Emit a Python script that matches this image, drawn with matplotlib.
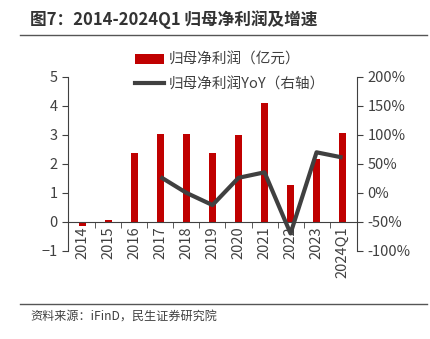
import matplotlib
matplotlib.use("Agg")
import matplotlib.pyplot as plt
from matplotlib.lines import Line2D
from matplotlib.patches import Patch
from matplotlib.ticker import FuncFormatter, FixedLocator

plt.rcParams['font.family'] = ['Noto Sans CJK SC', 'DejaVu Sans']

years = ["2014", "2015", "2016", "2017", "2018", "2019", "2020", "2021", "2022", "2023", "2024Q1"]
profit = [-0.13, 0.08, 2.36, 3.02, 3.04, 2.39, 3.01, 4.10, 1.28, 2.18, 3.07]
yoy_years = ["2017", "2018", "2019", "2020", "2021", "2022", "2023", "2024Q1"]
yoy = [27.5, 0.0, -21.0, 26.0, 35.5, -70.0, 70.0, 61.0]

red = "#C00000"
gray = "#404040"
txt = "#404040"
fs = 10.5

fig = plt.figure(figsize=(4.31, 3.39), dpi=100)
ax = fig.add_axes([0.158, 0.26, 0.67, 0.513])

x = list(range(len(years)))
ax.bar(x, profit, width=0.3, color=red, zorder=2)
ax.set_xlim(-0.55, len(years) - 0.45)
ax.set_ylim(-1, 5)
ax.set_yticks(range(-1, 6))

ax2 = ax.twinx()
yx = [years.index(y) for y in yoy_years]
ax2.plot(yx, yoy, color=gray, lw=3, zorder=3, solid_capstyle='butt')
ax2.set_ylim(-100, 200)
ax2.set_yticks(range(-100, 201, 50))
ax2.yaxis.set_major_formatter(FuncFormatter(lambda v, p: f"{v:.0f}%"))

for a in (ax, ax2):
    a.spines['top'].set_visible(False)
ax.spines['right'].set_visible(False)
ax2.spines['left'].set_visible(False)
ax2.spines['bottom'].set_visible(False)
ax.spines['left'].set_color(gray)
ax2.spines['right'].set_color(gray)
ax.spines['bottom'].set_position(('data', 0))
ax.spines['bottom'].set_color(gray)

ax.set_xticks(x)
ax.set_xticklabels(years, rotation=90)
ax.xaxis.set_minor_locator(FixedLocator([i + 0.5 for i in range(len(years) - 1)]))
ax.tick_params(axis='x', which='major', length=0, pad=3, labelsize=fs, colors=txt)
ax.tick_params(axis='x', which='minor', length=4, direction='out', color=gray)
ax.tick_params(axis='y', length=4, color=gray, labelsize=fs, labelcolor=txt)
ax2.tick_params(axis='y', length=4, color=gray, labelsize=fs, labelcolor=txt)

handles = [Patch(facecolor=red, edgecolor='none'),
           Line2D([0], [0], color=gray, lw=3)]
fig.legend(handles, ["归母净利润（亿元）", "归母净利润YoY（右轴）"],
           loc='upper center', bbox_to_anchor=(0.533, 0.866), frameon=False,
           fontsize=fs, labelcolor=txt, handlelength=2.0, handletextpad=0.3,
           labelspacing=0.72, borderpad=0)

fig.text(0.07, 0.941, "图7：2014-2024Q1 归母净利润及增速", fontsize=12,
         fontweight='bold', color="#333333", va='center')
fig.add_artist(Line2D([0.047, 0.99], [0.898, 0.898], color="#555555", lw=1))
fig.add_artist(Line2D([0.047, 0.99], [0.103, 0.103], color="#555555", lw=1))
fig.text(0.07, 0.064, "资料来源：iFinD，民生证券研究院", fontsize=8.7,
         color="#404040", va='center')

fig.savefig("out.png", dpi=100)
